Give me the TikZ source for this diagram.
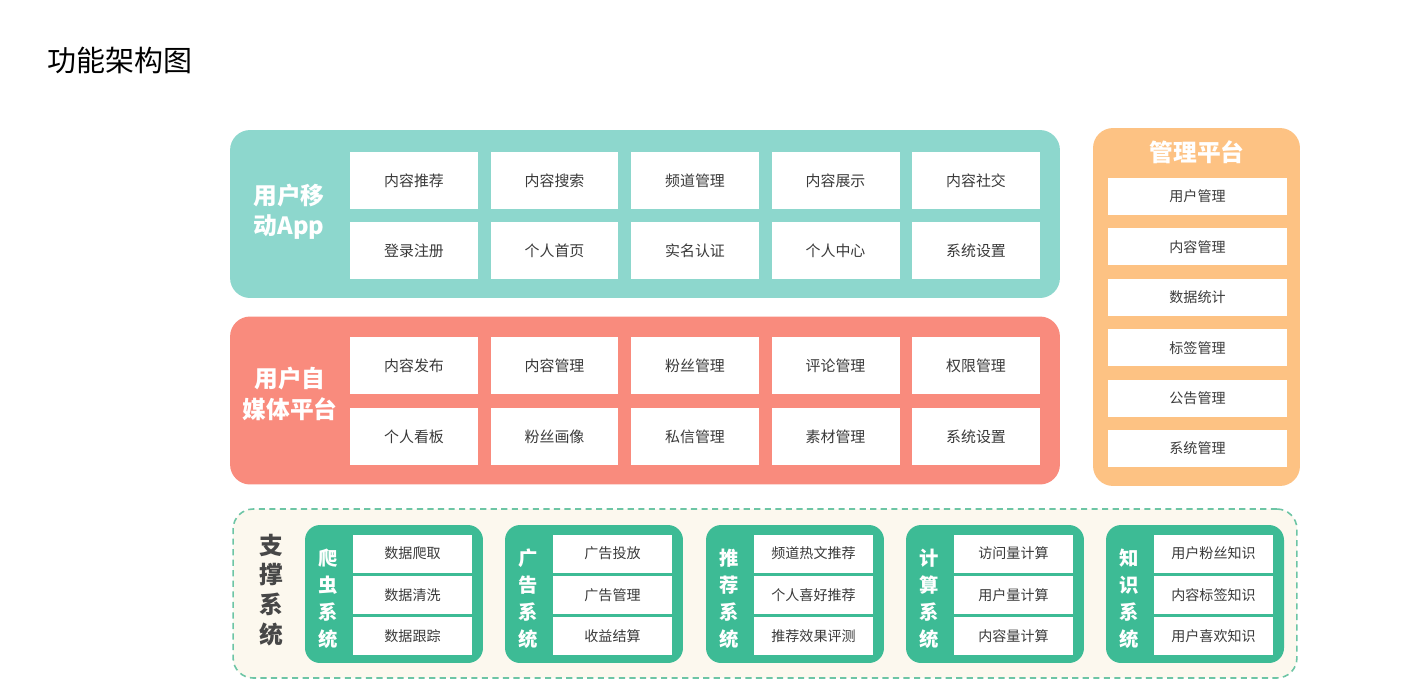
\documentclass[tikz,border=0pt]{standalone}
\usepackage{fontspec}
\newfontfamily\cjk{Noto Sans CJK SC}
\usepackage{tikz}

\definecolor{appteal}{HTML}{8DD7CD}
\definecolor{mediared}{HTML}{F98B7D}
\definecolor{adminorange}{HTML}{FDC283}
\definecolor{sysgreen}{HTML}{3DBB95}
\definecolor{dashgreen}{HTML}{6DC5A5}
\definecolor{cream}{HTML}{FCF8EE}
\definecolor{celltext}{HTML}{3A3A3A}

\tikzset{
    panel/.style={rounded corners=0.4cm, minimum width=16.6cm, minimum height=3.36cm},
    panellabel/.style={text=white, align=center, font=\cjk\bfseries\fontsize{13.5}{17.3}\selectfont},
    cell/.style={fill=white, minimum width=2.56cm, minimum height=1.14cm,
        text=celltext, font=\cjk\fontsize{8.5}{10}\selectfont},
    admincell/.style={cell, minimum width=3.58cm, minimum height=0.74cm, font=\cjk\fontsize{8}{10}\selectfont},
    syspanel/.style={fill=sysgreen, rounded corners=0.3cm, minimum width=3.56cm, minimum height=2.76cm},
    syscell/.style={cell, minimum width=2.38cm, minimum height=0.76cm, font=\cjk\fontsize{8}{10}\selectfont},
    syslabel/.style={text=white, align=center, font=\cjk\bfseries\fontsize{11}{15.3}\selectfont},
}

\begin{document}
\begin{tikzpicture}[x=0.02cm, y=-0.02cm]
    \fill[white] (0,0) rectangle (1419,690);
    \useasboundingbox (0,0) rectangle (1419,690);

    \node[anchor=west, font=\cjk\fontsize{16.5}{20}\selectfont] (title) at (41,60) {功能架构图};

    % user app
    \node[panel, fill=appteal] (app) at (645,214) {};
    \node[panellabel] (app-label) at (289,212) {用户移\\动App};
    \foreach \t [count=\i from 0] in {内容推荐,内容搜索,频道管理,内容展示,内容社交}
        \node[cell] (app-a\i) at (414+140.5*\i,180.5) {\t};
    \foreach \t [count=\i from 0] in {登录注册,个人首页,实名认证,个人中心,系统设置}
        \node[cell] (app-b\i) at (414+140.5*\i,250.5) {\t};

    % self media
    \node[panel, fill=mediared] (media) at (645,400.5) {};
    \node[panellabel] (media-label) at (290,394) {用户自\\媒体平台};
    \foreach \t [count=\i from 0] in {内容发布,内容管理,粉丝管理,评论管理,权限管理}
        \node[cell] (media-a\i) at (414+140.5*\i,365.5) {\t};
    \foreach \t [count=\i from 0] in {个人看板,粉丝画像,私信管理,素材管理,系统设置}
        \node[cell] (media-b\i) at (414+140.5*\i,436.5) {\t};

    % admin
    \node[panel, fill=adminorange, minimum width=4.14cm, minimum height=7.16cm] (admin) at (1196.5,307) {};
    \node[panellabel] (admin-label) at (1197,152) {管理平台};
    \foreach \t [count=\i from 0] in {用户管理,内容管理,数据统计,标签管理,公告管理,系统管理}
        \node[admincell] (admin-\i) at (1197.5,196.5+50.4*\i) {\t};

    % support systems
    \node[draw=dashgreen, fill=cream, line width=0.9pt, dash pattern=on 3.5pt off 2.5pt,
        rounded corners=0.4cm, minimum width=21.28cm, minimum height=3.38cm] (support) at (765,593.5) {};
    \node[align=center, text=black!72, font=\cjk\bfseries\fontsize{13.5}{17}\selectfont] (support-label)
        at (271.5,590) {支\\撑\\系\\统};
    \foreach \sx/\lbl/\a/\b/\c [count=\k] in {
        305/{爬\\虫\\系\\统}/数据爬取/数据清洗/数据跟踪,
        505/{广\\告\\系\\统}/广告投放/广告管理/收益结算,
        706/{推\\荐\\系\\统}/频道热文推荐/个人喜好推荐/推荐效果评测,
        906/{计\\算\\系\\统}/访问量计算/用户量计算/内容量计算,
        1106/{知\\识\\系\\统}/用户粉丝知识/内容标签知识/用户喜欢知识} {
        \node[syspanel] (sys\k) at (\sx+89,594) {};
        \node[syslabel] (sys\k-label) at (\sx+23,598.5) {\lbl};
        \node[syscell] (sys\k-1) at (\sx+107.5,553.5) {\a};
        \node[syscell] (sys\k-2) at (\sx+107.5,595) {\b};
        \node[syscell] (sys\k-3) at (\sx+107.5,636) {\c};
    }
\end{tikzpicture}
\end{document}
